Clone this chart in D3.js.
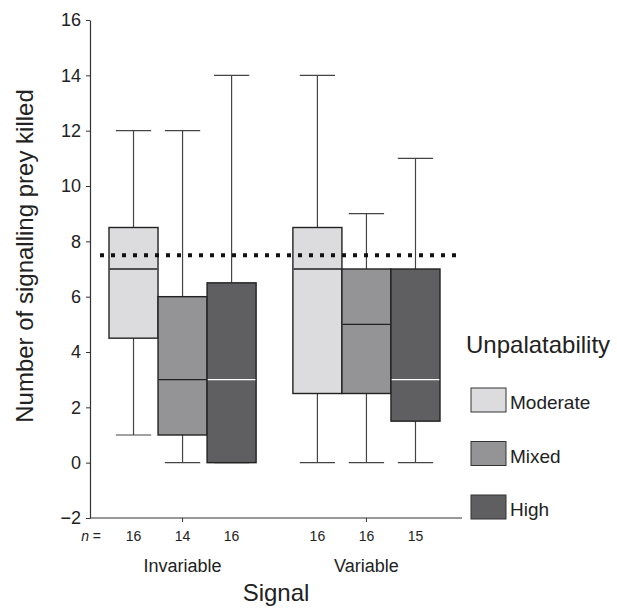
<!DOCTYPE html>
<html lang="en">
<head>
	<meta charset="UTF-8">
	<title>signalling prey boxplot</title>
	<script src="https://d3js.org/d3.v7.min.js" charset="utf-8"></script>
	<style>
		body { margin: 0; background: #fff; }
		text { font-family: "Liberation Sans", Arial, sans-serif; fill: #222; }
	</style>
</head>
<body>
	<svg></svg>
	<script>
		// data
		const signals = ['Invariable', 'Variable']
		const levels = ['Moderate', 'Mixed', 'High']
		const colors = ['#dcdcde', '#949497', '#5f5f61']
		const medianColors = ['#222', '#222', '#fff']
		// [min, q1, median, q3, max] per signal, per level
		const stats = [
			[[1, 4.5, 7, 8.5, 12], [0, 1, 3, 6, 12], [0, 0, 3, 6.5, 14]],
			[[0, 2.5, 7, 8.5, 14], [0, 2.5, 5, 7, 9], [0, 1.5, 3, 7, 11]]
		]
		const sampleSizes = [[16, 14, 16], [16, 16, 15]]
		const chanceLevel = 7.5
		const yTicks = d3.range(-2, 17, 2)

		const svg = d3.select('svg')
			.attr('width', 617)
			.attr('height', 608)

		const x0 = 90, x1 = 462
		const y = d3.scaleLinear().domain([-2, 16]).range([518, 20])
		const group = d3.scaleBand().domain(signals).range([109, 440]).paddingInner(0.2).paddingOuter(0)
		const level = d3.scaleBand().domain(levels).range([0, group.bandwidth()])

		// y axis
		const yAxis = svg.append('g')
			.attr('transform', `translate(${x0},0)`)
			.call(d3.axisLeft(y).tickValues(yTicks).tickSize(4).tickPadding(5).tickSizeOuter(0)
				.tickFormat(d => d < 0 ? '\u2212' + Math.abs(d) : d))
		yAxis.select('.domain').attr('stroke', '#333').attr('stroke-width', 1.2)
		yAxis.selectAll('.tick line').attr('stroke', '#333')
		yAxis.selectAll('.tick text').attr('font-size', 18).attr('fill', '#222')
			.attr('font-family', '"Liberation Sans", Arial, sans-serif')

		// x axis: baseline plus one tick per signal group
		const xAxis = svg.append('g').attr('transform', `translate(0,${y(-2)})`)
		xAxis.append('line')
			.attr('x1', x0).attr('x2', x1)
			.attr('stroke', '#333').attr('stroke-width', 1.2)
		xAxis.selectAll('.xt')
			.data(signals)
			.join('line')
			.attr('class', 'xt')
			.attr('x1', d => group(d) + group.bandwidth() / 2)
			.attr('x2', d => group(d) + group.bandwidth() / 2)
			.attr('y1', 0).attr('y2', 4)
			.attr('stroke', '#333')

		// boxes
		const groups = svg.selectAll('.grp')
			.data(signals)
			.join('g')
			.attr('class', 'grp')
			.attr('transform', d => `translate(${group(d)},0)`)

		const boxes = groups.selectAll('.box')
			.data((d, i) => stats[i].map((s, j) => ({ s, j, n: sampleSizes[i][j] })))
			.join('g')
			.attr('class', 'box')
			.attr('transform', d => `translate(${level(levels[d.j])},0)`)

		const bw = level.bandwidth()
		const cx = bw / 2
		const capW = bw * 0.72

		// upper and lower whiskers
		boxes.append('line')
			.attr('x1', cx).attr('x2', cx)
			.attr('y1', d => y(d.s[4])).attr('y2', d => y(d.s[3]))
			.attr('stroke', '#444').attr('stroke-width', 1.2)
		boxes.append('line')
			.attr('x1', cx).attr('x2', cx)
			.attr('y1', d => y(d.s[1])).attr('y2', d => y(d.s[0]))
			.attr('stroke', '#444').attr('stroke-width', 1.2)
		boxes.selectAll('.cap')
			.data(d => [d.s[0], d.s[4]])
			.join('line')
			.attr('class', 'cap')
			.attr('x1', cx - capW / 2).attr('x2', cx + capW / 2)
			.attr('y1', d => y(d)).attr('y2', d => y(d))
			.attr('stroke', '#444').attr('stroke-width', 1.2)

		boxes.append('rect')
			.attr('x', 0)
			.attr('width', bw)
			.attr('y', d => y(d.s[3]))
			.attr('height', d => y(d.s[1]) - y(d.s[3]))
			.attr('fill', d => colors[d.j])
			.attr('stroke', '#222')
			.attr('stroke-width', 1.4)

		boxes.append('line')
			.attr('x1', 0.7).attr('x2', bw - 0.7)
			.attr('y1', d => y(d.s[2])).attr('y2', d => y(d.s[2]))
			.attr('stroke', d => medianColors[d.j])
			.attr('stroke-width', 1.4)

		// sample sizes
		boxes.append('text')
			.attr('x', cx).attr('y', 541)
			.attr('text-anchor', 'middle')
			.attr('font-size', 14)
			.text(d => d.n)
		svg.append('text')
			.attr('x', 101).attr('y', 541)
			.attr('text-anchor', 'end')
			.attr('font-size', 14)
			.html('<tspan font-style="italic">n</tspan> =')

		// group labels
		groups.append('text')
			.attr('x', group.bandwidth() / 2).attr('y', 572)
			.attr('text-anchor', 'middle')
			.attr('font-size', 18)
			.text(d => d)

		// chance line
		svg.append('line')
			.attr('x1', 100).attr('x2', 456)
			.attr('y1', y(chanceLevel)).attr('y2', y(chanceLevel))
			.attr('stroke', '#111')
			.attr('stroke-width', 4)
			.attr('stroke-dasharray', '4,7')

		// axis titles
		svg.append('text')
			.attr('x', 276).attr('y', 601)
			.attr('text-anchor', 'middle')
			.attr('font-size', 24)
			.text('Signal')
		svg.append('text')
			.attr('transform', 'translate(33,256) rotate(-90)')
			.attr('text-anchor', 'middle')
			.attr('font-size', 24)
			.text('Number of signalling prey killed')

		// legend
		const legend = svg.append('g').attr('transform', 'translate(471,0)')
		legend.append('text')
			.attr('x', -5).attr('y', 353)
			.attr('font-size', 24)
			.text('Unpalatability')
		const items = legend.selectAll('.item')
			.data(levels)
			.join('g')
			.attr('class', 'item')
			.attr('transform', (d, i) => `translate(0,${388 + i * 53.5})`)
		items.append('rect')
			.attr('width', 35).attr('height', 24)
			.attr('fill', (d, i) => colors[i])
			.attr('stroke', '#333').attr('stroke-width', 1)
		items.append('text')
			.attr('x', 39).attr('y', 21)
			.attr('font-size', 19)
			.text(d => d)
	</script>
</body>
</html>
